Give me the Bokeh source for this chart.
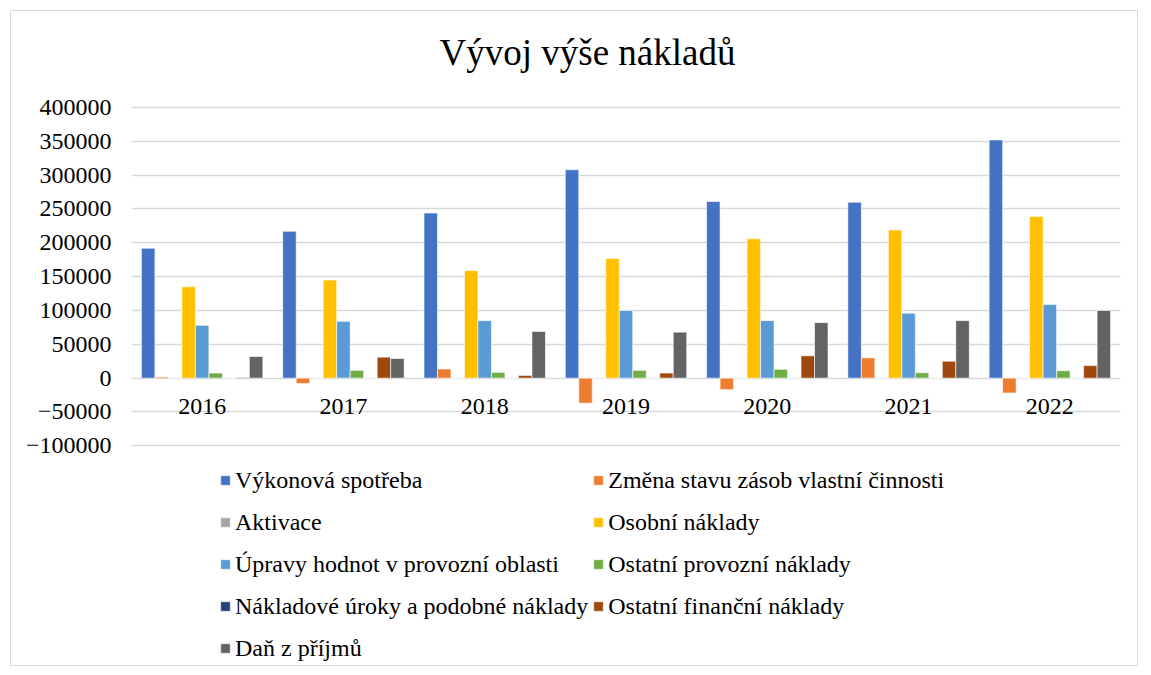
from bokeh.plotting import figure
from bokeh.models import (FactorRange, Range1d, FixedTicker, BasicTickFormatter,
                          Legend, LegendItem, ColumnDataSource, Label)
from bokeh.transform import dodge
from bokeh.core.properties import value
from bokeh.embed import file_html
from bokeh.resources import INLINE

title_text = "Vývoj výše nákladů"

years = ["2016", "2017", "2018", "2019", "2020", "2021", "2022"]

series_names = [
    "Výkonová spotřeba",
    "Změna stavu zásob vlastní činnosti",
    "Aktivace",
    "Osobní náklady",
    "Úpravy hodnot v provozní oblasti",
    "Ostatní provozní náklady",
    "Nákladové úroky a podobné náklady",
    "Ostatní finanční náklady",
    "Daň z příjmů",
]

vykonova_spotreba = [192000, 217000, 244000, 308000, 261000, 260000, 352000]
zmena_stavu_zasob = [1500, -8000, 13500, -37000, -17000, 30000, -22000]
aktivace = [0, 0, 0, 0, 0, 0, 0]
osobni_naklady = [135000, 145000, 159000, 177000, 206000, 219000, 239000]
upravy_hodnot = [78000, 84000, 85000, 100000, 85000, 96000, 109000]
ostatni_provozni = [7500, 11500, 8500, 11500, 13000, 8000, 11000]
nakladove_uroky = [0, 0, 0, 0, 0, 0, 0]
ostatni_financni = [1000, 31000, 4000, 7500, 33000, 25000, 18500]
dan_z_prijmu = [32000, 29000, 69000, 68000, 82000, 85000, 100000]

y_ticks = [-100000, -50000, 0, 50000, 100000, 150000, 200000, 250000, 300000, 350000, 400000]

colors = ["#4472C4", "#ED7D31", "#A5A5A5", "#FFC000", "#5B9BD5",
          "#70AD47", "#264478", "#9E480E", "#636363"]

series_values = [vykonova_spotreba, zmena_stavu_zasob, aktivace, osobni_naklady,
                 upravy_hodnot, ostatni_provozni, nakladove_uroky,
                 ostatni_financni, dan_z_prijmu]

cols = ["s%d" % i for i in range(len(series_names))]
data = {"year": years}
for c, vals in zip(cols, series_values):
    data[c] = vals
src = ColumnDataSource(data)

FONT = "Liberation Serif"

# the frame spans the whole chart box (title above, legend below);
# ticks and grid lines stop at -100000 .. 400000
p = figure(
    width=1128, height=656,
    x_range=FactorRange(*years, range_padding=0),
    y_range=Range1d(-427700, 541900),
    output_backend="svg", toolbar_location=None,
    min_border_left=120, min_border_right=19, min_border_top=0,
    min_border_bottom=0,
    margin=(10, 0, 0, 10),
)
p.styles = {"border": "1px solid #d9d9d9"}
p.title.visible = False

p.add_layout(Label(x=456, y=615, x_units="screen", y_units="screen",
                   text=title_text, text_align="center",
                   text_baseline="alphabetic", text_font=FONT,
                   text_font_size="37px", text_color="black"))

slot = 0.0955
items = []
for i, (c, name, col) in enumerate(zip(cols, series_names, colors)):
    r = p.vbar(x=dodge("year", (i - 4) * slot, range=p.x_range), top=c,
               width=slot, source=src, fill_color=col,
               line_color="white", line_width=1, line_alpha=0.6)
    items.append(LegendItem(label=name, renderers=[r]))

# year labels at the zero line
p.text(x="year", y=0, text="year", source=src, text_align="center",
       text_baseline="alphabetic", y_offset=28, text_font=value(FONT),
       text_font_size="24px", text_color="black")

p.xaxis.visible = False
p.xgrid.visible = False
p.outline_line_color = None

p.yaxis.ticker = FixedTicker(ticks=y_ticks)
p.yaxis.formatter = BasicTickFormatter(use_scientific=False)
p.yaxis.axis_line_color = None
p.yaxis.major_tick_line_color = None
p.yaxis.minor_tick_line_color = None
p.yaxis.major_tick_out = 0
p.yaxis.major_tick_in = 0
p.yaxis.minor_tick_out = 0
p.yaxis.major_label_standoff = 20
p.yaxis.major_label_text_font = FONT
p.yaxis.major_label_text_font_size = "24px"
p.yaxis.major_label_text_color = "black"

p.ygrid.ticker = FixedTicker(ticks=y_ticks)
p.ygrid.grid_line_color = "#d9d9d9"
p.ygrid.grid_line_width = 1.5

legend = Legend(items=items, orientation="horizontal", ncols=2,
                location=(88, 0), label_text_font=FONT,
                label_text_font_size="24px", label_text_color="black",
                glyph_width=12, glyph_height=12, label_standoff=4,
                label_height=38, spacing=4, padding=0, margin=0,
                border_line_color=None, background_fill_alpha=0)
p.add_layout(legend, "center")

open("out.html", "w").write(file_html(p, INLINE))
